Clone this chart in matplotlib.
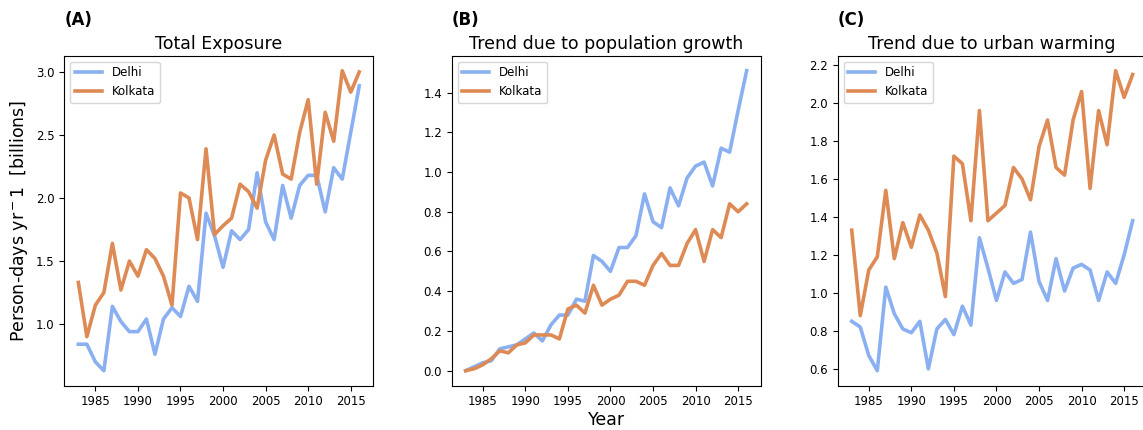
import numpy as np
import matplotlib.pyplot as plt

years = np.arange(1983, 2017)

# (A) total exposure, billions of person-days per year
total_delhi = [0.84, 0.84, 0.70, 0.63, 1.14, 1.02, 0.94, 0.94, 1.04, 0.76,
               1.04, 1.13, 1.06, 1.30, 1.18, 1.88, 1.70, 1.45, 1.74, 1.67,
               1.75, 2.20, 1.81, 1.67, 2.10, 1.84, 2.10, 2.18, 2.18, 1.89,
               2.24, 2.15, 2.52, 2.89]
total_kolkata = [1.33, 0.90, 1.15, 1.25, 1.64, 1.27, 1.50, 1.38, 1.59, 1.52,
                 1.38, 1.15, 2.04, 2.00, 1.67, 2.39, 1.71, 1.78, 1.84, 2.11,
                 2.05, 1.92, 2.30, 2.50, 2.19, 2.15, 2.52, 2.78, 2.11, 2.68,
                 2.45, 3.01, 2.84, 3.00]

# (B) population growth trend
pop_delhi = [0.00, 0.02, 0.04, 0.05, 0.11, 0.12, 0.13, 0.16, 0.19, 0.15,
             0.23, 0.28, 0.28, 0.36, 0.35, 0.58, 0.55, 0.50, 0.62, 0.62,
             0.68, 0.89, 0.75, 0.72, 0.92, 0.83, 0.97, 1.03, 1.05, 0.93,
             1.12, 1.10, 1.31, 1.51]
pop_kolkata = [0.00, 0.01, 0.03, 0.06, 0.10, 0.09, 0.13, 0.14, 0.18, 0.18,
               0.18, 0.16, 0.31, 0.33, 0.29, 0.43, 0.33, 0.36, 0.38, 0.45,
               0.45, 0.43, 0.53, 0.59, 0.53, 0.53, 0.64, 0.71, 0.55, 0.71,
               0.67, 0.84, 0.80, 0.84]

# (C) urban warming trend
warm_delhi = [0.85, 0.82, 0.67, 0.59, 1.03, 0.89, 0.81, 0.79, 0.85, 0.60,
              0.81, 0.86, 0.78, 0.93, 0.83, 1.29, 1.13, 0.96, 1.11, 1.05,
              1.07, 1.32, 1.06, 0.96, 1.18, 1.01, 1.13, 1.15, 1.12, 0.96,
              1.11, 1.05, 1.20, 1.38]
warm_kolkata = [1.33, 0.88, 1.12, 1.19, 1.54, 1.18, 1.37, 1.24, 1.41, 1.33,
                1.21, 0.98, 1.72, 1.68, 1.38, 1.96, 1.38, 1.42, 1.46, 1.66,
                1.60, 1.49, 1.77, 1.91, 1.66, 1.62, 1.91, 2.06, 1.55, 1.96,
                1.78, 2.17, 2.03, 2.15]

panels = [
    ("(A)", "Total Exposure", total_delhi, total_kolkata),
    ("(B)", "Trend due to population growth", pop_delhi, pop_kolkata),
    ("(C)", "Trend due to urban warming", warm_delhi, warm_kolkata),
]

delhi_color = '#8ab0f1'
kolkata_color = '#de8a55'

fig = plt.figure(figsize=(11.43, 4.3), dpi=100)
lefts = [64.3, 451.7, 837.7]
for left, (tag, title, delhi, kolkata) in zip(lefts, panels):
    ax = fig.add_axes([left / 1143, 44.3 / 430, 309 / 1143, 330 / 430])
    ax.plot(years, delhi, color=delhi_color, lw=2.6, label='Delhi')
    ax.plot(years, kolkata, color=kolkata_color, lw=2.6, label='Kolkata')
    ax.set_xticks([1985, 1990, 1995, 2000, 2005, 2010, 2015])
    ax.tick_params(labelsize=8.5)
    ax.set_title(title, fontsize=12.5, pad=5)
    ax.text(0.0, 1.08, tag, transform=ax.transAxes, fontsize=12,
            fontweight='bold', ha='left', va='bottom')
    ax.legend(loc='upper left', fontsize=8.5, handlelength=2.3)
    if tag == "(A)":
        ax.set_ylabel("Person-days yr$^-1$  [billions]", fontsize=12.5)
    if tag == "(B)":
        ax.set_xlabel("Year", fontsize=12.5, labelpad=2)

fig.savefig('out.png', dpi=100)
